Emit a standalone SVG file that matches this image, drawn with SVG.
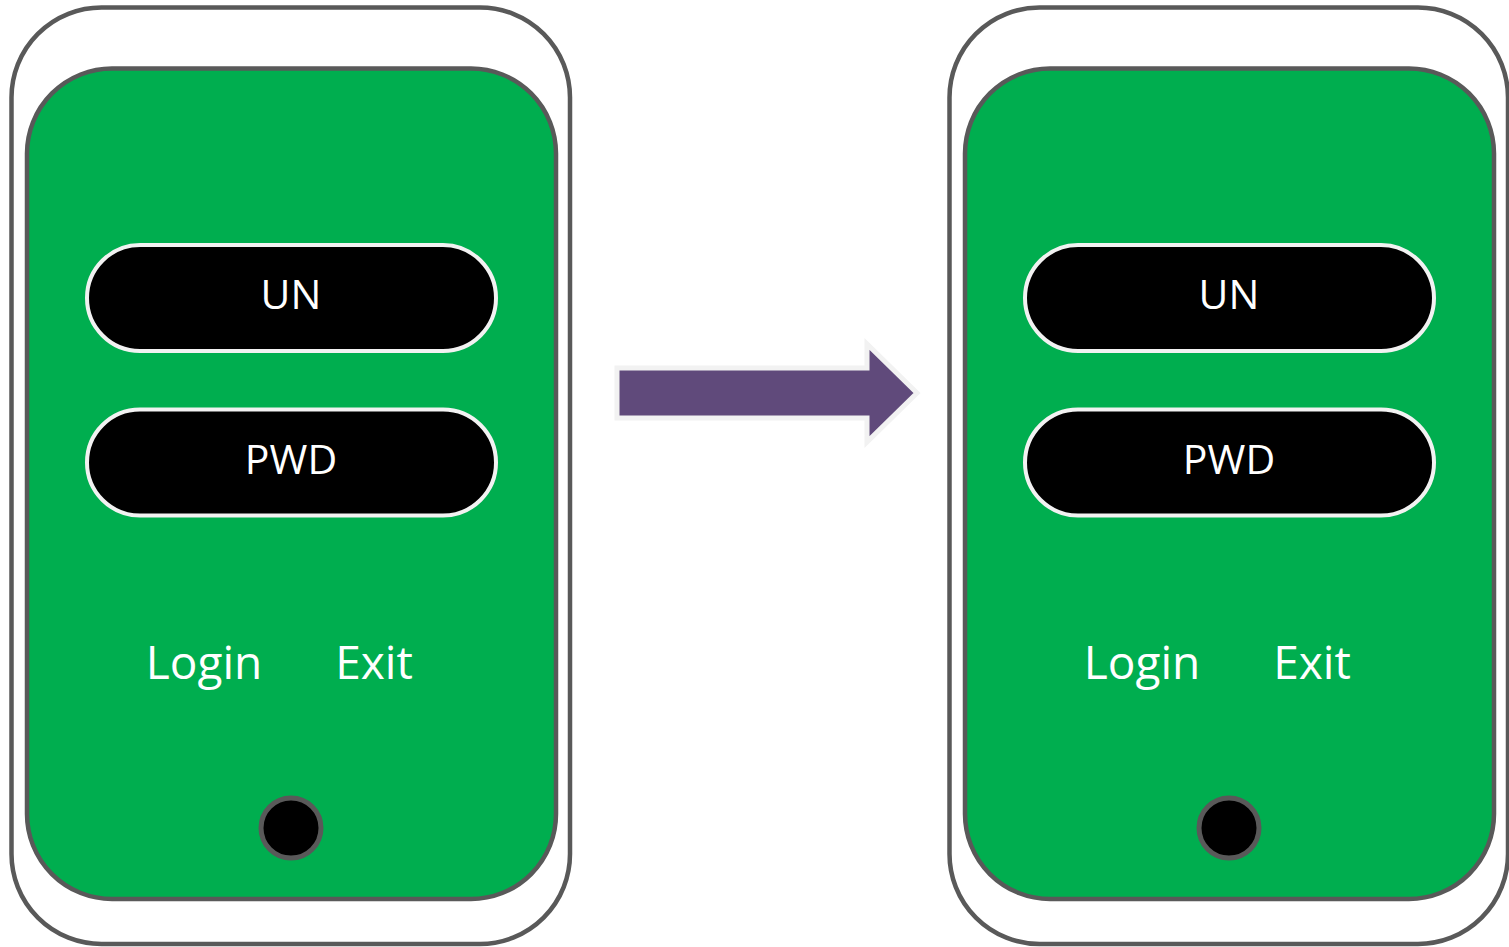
<svg xmlns="http://www.w3.org/2000/svg" width="1509" height="947" viewBox="0 0 1509 947">
<style>
.outer{fill:#ffffff;stroke:#595959;stroke-width:4.5}
.screen{fill:#00ae4f;stroke:#595959;stroke-width:4.5}
.field{fill:#000000;stroke:#f2f2f2;stroke-width:4}
.home{fill:#000000;stroke:#595959;stroke-width:5}
.lbl{font-family:"Open Sans","DejaVu Sans",sans-serif;fill:#ffffff;text-anchor:middle}
.fl{font-size:41px}
.bt{font-size:46px}
.arrow{fill:#604a7b;stroke:#f2f2f2;stroke-width:5}
</style>
<g id="phone-left">
<rect class="outer" x="11.5" y="7.5" width="558.5" height="936.5" rx="90" ry="90"/>
<rect class="screen" x="27" y="68.5" width="529" height="830.5" rx="85" ry="85"/>
<g id="un-left">
<rect class="field" x="87" y="245" width="409" height="106" rx="53" ry="53"/>
<text class="lbl fl" x="291" y="309">UN</text>
</g>
<g id="pwd-left">
<rect class="field" x="87" y="409.5" width="409" height="106" rx="53" ry="53"/>
<text class="lbl fl" x="291" y="474">PWD</text>
</g>
<text id="login-left" class="lbl bt" x="204" y="679">Login</text>
<text id="exit-left" class="lbl bt" x="374" y="679">Exit</text>
<circle id="home-left" class="home" cx="291" cy="828" r="30"/>
</g>
<g id="phone-right" transform="translate(938,0)">
<rect class="outer" x="11.5" y="7.5" width="558.5" height="936.5" rx="90" ry="90"/>
<rect class="screen" x="27" y="68.5" width="529" height="830.5" rx="85" ry="85"/>
<g id="un-right">
<rect class="field" x="87" y="245" width="409" height="106" rx="53" ry="53"/>
<text class="lbl fl" x="291" y="309">UN</text>
</g>
<g id="pwd-right">
<rect class="field" x="87" y="409.5" width="409" height="106" rx="53" ry="53"/>
<text class="lbl fl" x="291" y="474">PWD</text>
</g>
<text id="login-right" class="lbl bt" x="204" y="679">Login</text>
<text id="exit-right" class="lbl bt" x="374" y="679">Exit</text>
<circle id="home-right" class="home" cx="291" cy="828" r="30"/>
</g>
<g id="connectors">
<path class="arrow" d="M617,368 L867,368 L867,344 L917,393 L867,442 L867,418 L617,418 Z"/>
</g>
</svg>
